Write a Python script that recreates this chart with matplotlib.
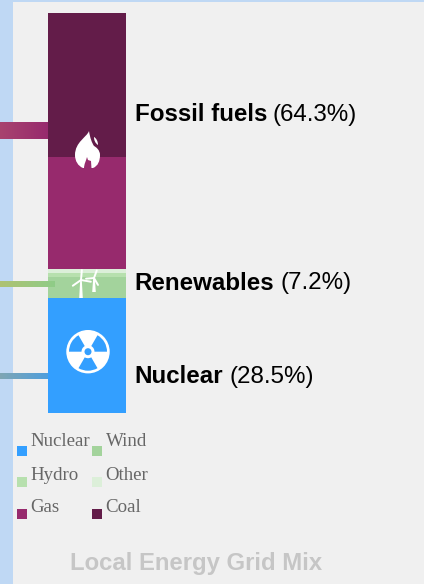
import numpy as np
import matplotlib
matplotlib.use("Agg")
import matplotlib.pyplot as plt
from matplotlib.path import Path
from matplotlib.patches import PathPatch, Circle, Wedge, Rectangle, Polygon
from matplotlib.colors import LinearSegmentedColormap

# --- data ---
sources = ["Nuclear", "Wind", "Hydro", "Other", "Gas", "Coal"]
shares = [28.75, 5.25, 0.9, 1.0, 28.1, 36.0]
colors = ["#339FFF", "#A3D39C", "#B7E0AE", "#DCEFD9", "#972A6D", "#631C49"]
groups = ["Fossil fuels", "Renewables", "Nuclear"]
group_shares = ["(64.3%)", "(7.2%)", "(28.5%)"]
title = "Local Energy Grid Mix"

W, H = 424, 584
fig = plt.figure(figsize=(W / 100, H / 100), dpi=100, facecolor="#BFD8F4")

cv = fig.add_axes([0, 0, 1, 1])
cv.set_xlim(0, W)
cv.set_ylim(H, 0)
cv.axis("off")
cv.add_patch(Rectangle((13, 2), W - 13, H - 2, fc="#F0F0F0", ec="none", zorder=0))

# stacked bar from the data
ax = fig.add_axes([48 / W, 1 - 413 / H, 78 / W, 400 / H], zorder=2)
ax.set_xlim(0, 1)
ax.set_ylim(0, 100)
ax.axis("off")
bottom = 0
for s, c in zip(shares, colors):
    ax.bar(0.5, s, width=1, bottom=bottom, color=c, linewidth=0)
    bottom += s

# overlay canvas for stripes, icons and text
ov = fig.add_axes([0, 0, 1, 1], zorder=3)
ov.axis("off")
ov.patch.set_alpha(0)

def stripe(x0, x1, y0, y1, c0, c1):
    cm = LinearSegmentedColormap.from_list("s", [c0, c1])
    ov.imshow(np.linspace(0, 1, 64)[None, :], extent=(x0, x1, y1, y0), cmap=cm,
              aspect="auto", zorder=1)

stripe(0, 48, 122, 139, "#A8436F", "#972A6D")
stripe(0, 55, 281, 287, "#AEC272", "#8FCC88")
stripe(0, 48, 373, 379, "#7FA6B4", "#4F9FDC")
ov.set_xlim(0, W)
ov.set_ylim(H, 0)

# flame icon
M, C, L, Z = Path.MOVETO, Path.CURVE4, Path.LINETO, Path.CLOSEPOLY
flame = Path(
    [(89, 131), (87, 137), (75, 142), (75, 155), (75, 161), (78, 166), (83, 168),
     (93, 168), (98, 166), (100, 161), (100, 155), (100, 150), (96, 147), (94, 146),
     (92, 143), (90, 138), (89, 131), (89, 131)],
    [M, C, C, C, C, C, C, L, C, C, C, C, C, C, C, C, C, Z])
ov.add_patch(PathPatch(flame, fc="white", ec="none", zorder=3))
droplet = Path([(94, 137), (94, 140), (95, 143), (98, 145), (98, 141), (96, 138), (94, 137), (94, 137)],
               [M, C, C, C, C, C, C, Z])
ov.add_patch(PathPatch(droplet, fc="white", ec="none", zorder=3))
cut = Path([(84, 168.5), (84, 164), (86, 161), (87, 157), (88, 160), (91, 161), (91.5, 168.5), (84, 168.5)],
           [M, C, C, C, L, L, L, Z])
ov.add_patch(PathPatch(cut, fc="#972A6D", ec="none", zorder=4))

# wind turbines
for hx, hy, size, base, angs in [(81, 280, 10, 298, (85, 215, 350)),
                                 (94, 278, 8, 292, (70, 185, 300))]:
    ov.add_patch(Polygon([(hx - 0.8, hy), (hx + 0.8, hy), (hx + 1.8, base), (hx - 1.8, base)],
                         fc="white", ec="none", zorder=3))
    for ang in angs:
        a = np.radians(ang)
        ov.plot([hx, hx + size * np.cos(a)], [hy, hy - size * np.sin(a)],
                color="white", lw=1.4, solid_capstyle="round", zorder=3)

# radiation icon
cx, cy = 88, 351.7
ov.add_patch(Circle((cx, cy), 21.7, fc="white", ec="none", zorder=3))
for mid in (-30, -150, 90):
    ov.add_patch(Wedge((cx, cy), 19, mid - 30, mid + 30, width=12.5, fc="#339FFF", ec="none", zorder=4))
ov.add_patch(Circle((cx, cy), 3.5, fc="#339FFF", ec="none", zorder=4))

# group labels
ypos = [114.5, 283.5, 376.5]
for g, s, y in zip(groups, group_shares, ypos):
    t = ov.text(134.6, y, g, fontfamily="Liberation Sans", fontweight="bold",
                fontsize=17.4, color="black", va="center", ha="left")
    fig.canvas.draw()
    bb = t.get_window_extent()
    ov.text(bb.x1 + 6, y, s, fontfamily="Liberation Sans", fontsize=17.4,
            color="black", va="center", ha="left")

# legend
lx = [17, 92]
ly = [451, 482, 514]
lty = [442, 475, 508]
lorder = [["Nuclear", "Wind"], ["Hydro", "Other"], ["Gas", "Coal"]]
cmap = dict(zip(sources, colors))
for r, row in enumerate(lorder):
    for c, name in enumerate(row):
        ov.add_patch(Rectangle((lx[c], ly[r] - 5), 10, 10, fc=cmap[name], ec="none"))
        ov.text(lx[c] + 13.7, lty[r], name, fontfamily="Liberation Serif", fontsize=13.6,
                color="#666666", va="center", ha="left")

ov.text(196.5, 563.5, title, fontfamily="Liberation Sans", fontweight="bold",
        fontsize=17.2, color="#C6C6C6", ha="center", va="center")

fig.savefig("out.png", dpi=100, facecolor=fig.get_facecolor())
